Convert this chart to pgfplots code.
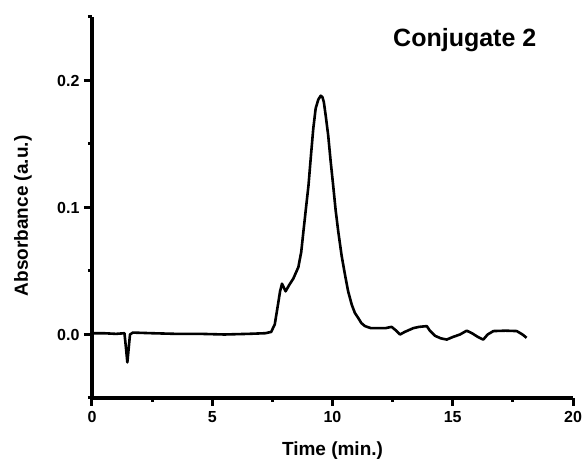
\documentclass[border=0pt]{standalone}
\usepackage{fontspec}
\setmainfont{Liberation Sans}
\usepackage{pgfplots}
\pgfplotsset{compat=1.18}

\begin{document}
\begin{tikzpicture}
\begin{axis}[
    name=ax,
    width=481pt, height=381pt, scale only axis,
    xmin=0, xmax=20, ymin=-0.05, ymax=0.25,
    axis x line=bottom, axis y line=left,
    axis line style={-, line width=3.5pt},
    xtick={0,5,10,15,20},
    minor xtick={2.5,7.5,12.5,17.5},
    ytick={0,0.1,0.2},
    minor ytick={-0.05,0.05,0.15,0.25},
    tick align=outside,
    major tick length=8pt, minor tick length=4pt,
    tick style={black, line width=3pt},
    /pgf/number format/assume math mode=true,
    yticklabel style={xshift=-1pt, /pgf/number format/.cd, fixed, fixed zerofill, precision=1},
    tick label style={font=\fontsize{16}{16}\selectfont\bfseries},
    xticklabel style={yshift=-2pt},
    xlabel={Time (min.)},
    ylabel={Absorbance (a.u.)},
    every axis x label/.style={at={(axis description cs:0.5,-0.139)}, anchor=center,
        font=\fontsize{19}{19}\selectfont\bfseries},
    every axis y label/.style={at={(axis description cs:-0.1435,0.478)}, anchor=center, rotate=90,
        font=\fontsize{19}{19}\selectfont\bfseries},
]
% chromatogram trace
\addplot[black, line width=2.6pt, line join=round] coordinates {
    (0,0.001) (0.5,0.001) (1.0,0.0005) (1.35,0.001) (1.42,-0.012) (1.47,-0.022)
    (1.52,-0.012) (1.58,0.0) (1.7,0.0015) (2.5,0.001) (3.5,0.0005) (4.5,0.0005)
    (5.5,0.0) (6.5,0.0005) (7.2,0.001) (7.45,0.002) (7.6,0.008) (7.72,0.022)
    (7.82,0.034) (7.9,0.040) (7.95,0.038) (8.05,0.034) (8.2,0.039) (8.37,0.044)
    (8.58,0.053) (8.7,0.065) (8.79,0.081) (8.9,0.1) (9.0,0.117) (9.1,0.14)
    (9.2,0.162) (9.3,0.178) (9.41,0.185) (9.51,0.188) (9.58,0.187) (9.64,0.183)
    (9.72,0.172) (9.82,0.157) (9.92,0.137) (10.03,0.117) (10.13,0.098) (10.24,0.081)
    (10.38,0.062) (10.52,0.047) (10.65,0.034) (10.8,0.0235) (10.93,0.017) (11.07,0.013)
    (11.2,0.009) (11.35,0.0066) (11.6,0.005) (11.84,0.005) (12.2,0.005) (12.46,0.006)
    (12.65,0.003) (12.81,0.0) (13.0,0.002) (13.36,0.005) (13.6,0.006) (13.92,0.0066)
    (14.05,0.003) (14.26,-0.001) (14.5,-0.003) (14.75,-0.004) (15.0,-0.002) (15.3,0.0)
    (15.58,0.003) (15.8,0.001) (16.05,-0.002) (16.27,-0.004) (16.45,0.0) (16.69,0.0027)
    (17.2,0.003) (17.66,0.0027) (17.9,0.0) (18.07,-0.0026)
};
\node[font=\fontsize{25}{25}\selectfont\bfseries] at (axis cs:15.5,0.232) {Conjugate 2};
\end{axis}
\pgfresetboundingbox
\path[use as bounding box] ([shift={(-92pt,-64pt)}]ax.south west) rectangle ([shift={(11pt,17pt)}]ax.north east);
\end{tikzpicture}
\end{document}
